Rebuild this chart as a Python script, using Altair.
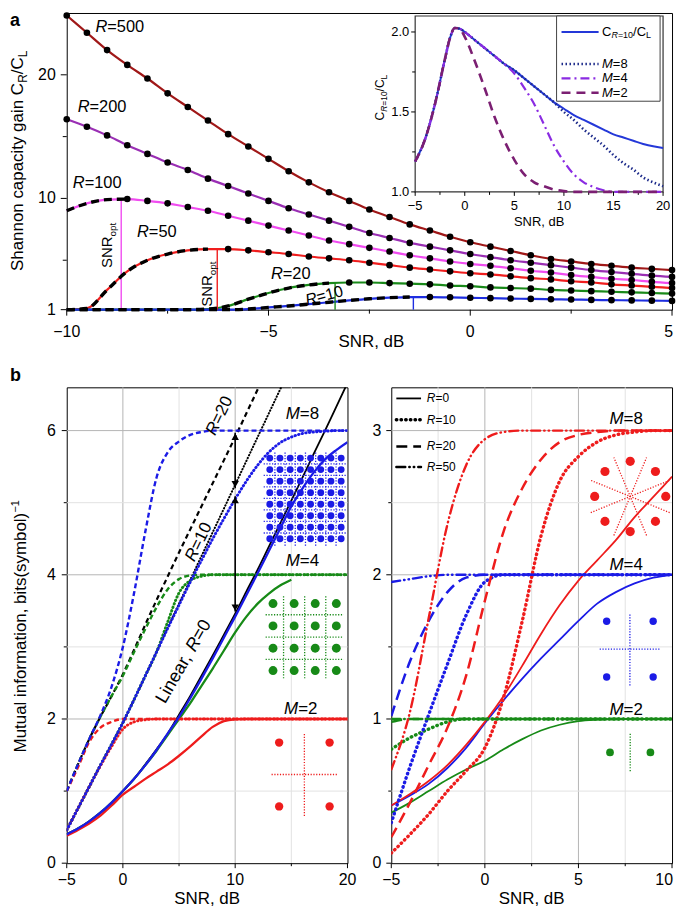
import altair as alt
import pandas as pd

FONT = "Liberation Sans"

# ======================= DATA =======================
# ---- panel a: Shannon capacity gain C_R/C_L vs SNR (dB)
snr_a = [-10.0, -9.5, -9.0, -8.5, -8.0, -7.5, -7.0, -6.5, -6.0, -5.5, -5.0, -4.5, -4.0, -3.5, -3.0,
         -2.5, -2.0, -1.5, -1.0, -0.5, 0.0, 0.5, 1.0, 1.5, 2.0, 2.5, 3.0, 3.5, 4.0, 4.5, 5.0]
gain_R500 = [24.8, 23.4, 22.0, 20.8, 19.7, 18.5, 17.4, 16.3, 15.2, 14.2, 13.2, 12.2, 11.3, 10.5, 9.8,
             9.1, 8.5, 7.9, 7.4, 6.9, 6.45, 6.1, 5.75, 5.4, 5.1, 4.9, 4.7, 4.55, 4.4, 4.3, 4.2]
gain_R200 = [16.4, 15.8, 15.1, 14.3, 13.6, 12.9, 12.3, 11.6, 11.0, 10.4, 9.8, 9.2, 8.7, 8.2, 7.7,
             7.2, 6.8, 6.4, 6.1, 5.8, 5.5, 5.25, 5.0, 4.8, 4.6, 4.4, 4.2, 4.05, 3.9, 3.75, 3.65]
gain_R100 = [9.0, 9.6, 9.9, 9.95, 9.8, 9.6, 9.3, 9.0, 8.6, 8.2, 7.8, 7.4, 7.0, 6.6, 6.3,
             6.0, 5.7, 5.4, 5.15, 4.9, 4.7, 4.55, 4.35, 4.15, 4.0, 3.8, 3.65, 3.5, 3.4, 3.25, 3.15]
gain_R50 = [1.0, 1.1, 2.6, 4.1, 5.0, 5.5, 5.8, 5.9, 5.9, 5.8, 5.65, 5.5, 5.3, 5.15, 5.0,
            4.8, 4.6, 4.4, 4.25, 4.1, 3.95, 3.85, 3.7, 3.55, 3.45, 3.3, 3.2, 3.05, 2.95, 2.85, 2.75]
gain_R20 = [1.0, 1.0, 1.0, 1.0, 1.0, 1.0, 1.0, 1.05, 1.3, 1.85, 2.35, 2.75, 3.0, 3.15, 3.2,
            3.2, 3.15, 3.1, 3.05, 2.95, 2.9, 2.8, 2.75, 2.7, 2.6, 2.55, 2.5, 2.45, 2.4, 2.35, 2.3]
gain_R10 = [1.0, 1.0, 1.0, 1.0, 1.0, 1.0, 1.0, 1.0, 1.0, 1.05, 1.18, 1.3, 1.45, 1.6, 1.75,
            1.88, 1.97, 2.02, 2.02, 2.0, 1.96, 1.93, 1.9, 1.87, 1.84, 1.82, 1.79, 1.77, 1.75, 1.73, 1.71]
R_levels = ["500", "200", "100", "50", "20", "10"]
R_colors = ["#a01818", "#9a2fb4", "#f04cf0", "#f01e1e", "#1a8a1a", "#1e2ee0"]
R_snr_opt = [-11.0, -11.0, -8.65, -6.27, -3.35, -1.41]
opt_R = ["100", "50", "20", "10"]
opt_snr = [-8.65, -6.27, -3.35, -1.41]
opt_gain = [9.95, 5.9, 3.15, 2.02]
a_xticks = [-10, -7.5, -5, -2.5, 0, 2.5, 5]
a_xlabels = ["\u221210", "", "\u22125", "", "0", "", "5"]
a_yticks = [1, 5, 10, 15, 20]
a_ylabels = ["1", "", "10", "", "20"]

# ---- inset: C_{R=10}/C_L vs SNR
snr_i = [-5, -4, -3, -2, -1.5, -1, -0.5, 0, 1, 2, 3, 4, 5, 6, 7, 8, 9, 10, 11, 12, 13, 14, 15, 16, 17, 18, 19, 20]
ratio_lin = [1.19, 1.33, 1.55, 1.83, 1.96, 2.025, 2.02, 2.0, 1.95, 1.9, 1.85, 1.8, 1.76, 1.71, 1.66, 1.61,
             1.56, 1.52, 1.48, 1.45, 1.42, 1.39, 1.36, 1.34, 1.32, 1.30, 1.285, 1.275]
ratio_M8 = [1.19, 1.33, 1.55, 1.83, 1.96, 2.025, 2.02, 2.0, 1.95, 1.9, 1.85, 1.8, 1.76, 1.71, 1.66, 1.61,
            1.56, 1.50, 1.45, 1.39, 1.34, 1.29, 1.23, 1.18, 1.14, 1.09, 1.06, 1.035]
ratio_M4 = [1.19, 1.33, 1.55, 1.83, 1.96, 2.025, 2.02, 2.0, 1.95, 1.9, 1.85, 1.8, 1.74, 1.65, 1.55, 1.42,
            1.29, 1.19, 1.11, 1.06, 1.03, 1.01, 1.0, 1.0, 1.0, 1.0, 1.0, 1.0]
ratio_M2 = [1.19, 1.33, 1.55, 1.83, 1.96, 2.025, 2.02, 1.97, 1.82, 1.65, 1.47, 1.32, 1.2, 1.11, 1.06, 1.035,
            1.015, 1.005, 1.0, 1.0, 1.0, 1.0, 1.0, 1.0, 1.0, 1.0, 1.0, 1.0]
inset_x_domain = [-5, 20]
inset_y_domain = [1.0, 2.1]
inset_legend_box = [9.26, 19.7, 1.567, 2.1]
inset_leg_rows = [2.0, 1.80, 1.71, 1.62]
i_xticks = [-5, -2.5, 0, 2.5, 5, 7.5, 10, 12.5, 15, 17.5, 20]
i_xlabels = ["\u22125", "", "0", "", "5", "", "10", "", "15", "", "20"]
i_yticks = [1.0, 1.25, 1.5, 1.75, 2.0]
i_ylabels = ["1.0", "", "1.5", "", "2.0"]

# ---- panel b left: mutual information vs SNR (-5..20 dB)
snr_b = [-5, -4, -3, -2, -1, 0, 1, 2, 3, 4, 5, 6, 7, 8, 9, 10, 11, 12, 13, 14, 15, 16, 17, 18, 19, 20]
lin_R0 = [0.4, 0.48, 0.58, 0.7, 0.83, 1.0, 1.17, 1.37, 1.58, 1.8, 2.06, 2.32, 2.6, 2.88, 3.17, 3.46,
          3.77, 4.07, 4.39, 4.71, 5.03, 5.35, 5.68, 6.0, 6.33, 6.66]
lin_R10 = [0.46, 0.76, 1.06, 1.36, 1.65, 1.95, 2.27, 2.6, 2.93, 3.27, 3.6, 3.93, 4.26, 4.59, 4.92, 5.25,
           5.58, 5.91, 6.24, 6.57, 6.9]
lin_R20 = [1.0, 1.37, 1.72, 2.03, 2.32, 2.62, 2.96, 3.31, 3.65, 3.98, 4.31, 4.63, 4.95, 5.27, 5.59, 5.91,
           6.24, 6.57, 6.9]
M8_R0 = [0.4, 0.48, 0.58, 0.7, 0.84, 1.0, 1.17, 1.36, 1.57, 1.8, 2.03, 2.29, 2.56, 2.84, 3.13, 3.42,
         3.72, 4.02, 4.33, 4.64, 4.95, 5.2, 5.42, 5.6, 5.73, 5.84]
M8_R10 = [0.46, 0.76, 1.06, 1.36, 1.65, 1.95, 2.27, 2.6, 2.93, 3.26, 3.58, 3.9, 4.2, 4.5, 4.78, 5.05,
          5.3, 5.52, 5.7, 5.83, 5.91, 5.96, 5.98, 5.99, 6.0, 6.0]
M8_R20 = [1.0, 1.37, 1.72, 2.05, 2.45, 3.0, 3.75, 4.6, 5.35, 5.7, 5.85, 5.94, 5.98, 6.0, 6.0, 6.0,
          6.0, 6.0, 6.0, 6.0, 6.0, 6.0, 6.0, 6.0, 6.0, 6.0]
M4_R0 = [0.4, 0.48, 0.58, 0.7, 0.84, 1.0, 1.17, 1.36, 1.56, 1.78, 2.0, 2.22, 2.46, 2.7, 2.95, 3.2,
         3.42, 3.6, 3.74, 3.85, 3.93]
M4_R10 = [0.46, 0.76, 1.06, 1.36, 1.65, 1.95, 2.27, 2.6, 2.93, 3.35, 3.75, 3.92, 3.98, 4.0, 4.0, 4.0,
          4.0, 4.0, 4.0, 4.0, 4.0, 4.0, 4.0, 4.0, 4.0, 4.0]
M4_R20 = [1.0, 1.37, 1.72, 2.03, 2.32, 2.6, 2.93, 3.25, 3.55, 3.8, 3.94, 3.99, 4.0, 4.0, 4.0, 4.0,
          4.0, 4.0, 4.0, 4.0, 4.0, 4.0, 4.0, 4.0, 4.0, 4.0]
M2_R0 = [0.38, 0.46, 0.55, 0.66, 0.8, 0.95, 1.06, 1.17, 1.27, 1.37, 1.49, 1.62, 1.76, 1.89, 1.97, 1.995,
         2.0, 2.0, 2.0, 2.0, 2.0, 2.0, 2.0, 2.0, 2.0, 2.0]
M2_R10 = [0.46, 0.76, 1.06, 1.35, 1.62, 1.86, 1.96, 1.99, 2.0, 2.0, 2.0, 2.0, 2.0, 2.0, 2.0, 2.0,
          2.0, 2.0, 2.0, 2.0, 2.0, 2.0, 2.0, 2.0, 2.0, 2.0]
M2_R20 = [1.0, 1.33, 1.68, 1.88, 1.96, 2.0, 2.0, 2.0, 2.0, 2.0, 2.0, 2.0, 2.0, 2.0, 2.0, 2.0,
          2.0, 2.0, 2.0, 2.0, 2.0, 2.0, 2.0, 2.0, 2.0, 2.0]
arrow_snr = 10
arrow_upper = [5.2, 5.97]
arrow_lower = [3.49, 5.09]
b_xticks = [-5, 0, 5, 10, 15, 20]
b_xlabels = ["\u22125", "0", "", "10", "", "20"]
b_yticks = [0, 1, 2, 3, 4, 5, 6]
b_ylabels = ["0", "", "2", "", "4", "", "6"]
b_xgrid_major, b_xgrid_minor = [0, 10], [5, 15]
b_ygrid_major, b_ygrid_minor = [2, 4, 6], [1, 3, 5]

# ---- panel b right: mutual information vs SNR (-5..10 dB)
snr_c = [-5, -4, -3, -2, -1, 0, 1, 2, 3, 4, 5, 6, 7, 8, 9, 10]
c_M8_R0 = [0.4, 0.48, 0.57, 0.68, 0.82, 0.98, 1.16, 1.37, 1.59, 1.79, 1.96, 2.1, 2.24, 2.4, 2.54, 2.68]
c_M8_R10 = [0.07, 0.2, 0.34, 0.5, 0.64, 0.8, 1.15, 1.68, 2.27, 2.65, 2.82, 2.92, 2.97, 2.99, 3.0, 3.0]
c_M8_R20 = [0.18, 0.42, 0.68, 0.94, 1.3, 1.82, 2.3, 2.6, 2.8, 2.92, 2.97, 2.99, 3.0, 3.0, 3.0, 3.0]
c_M8_R50 = [0.65, 1.05, 1.7, 2.35, 2.76, 2.94, 2.99, 3.0, 3.0, 3.0, 3.0, 3.0, 3.0, 3.0, 3.0, 3.0]
c_M4_R0 = [0.4, 0.47, 0.55, 0.66, 0.8, 0.97, 1.13, 1.28, 1.42, 1.55, 1.68, 1.8, 1.88, 1.94, 1.98, 2.0]
c_M4_R10 = [0.28, 0.67, 1.03, 1.38, 1.72, 1.95, 2.0, 2.0, 2.0, 2.0, 2.0, 2.0, 2.0, 2.0, 2.0, 2.0]
c_M4_R20 = [1.02, 1.4, 1.68, 1.88, 1.98, 2.0, 2.0, 2.0, 2.0, 2.0, 2.0, 2.0, 2.0, 2.0, 2.0, 2.0]
c_M4_R50 = [1.95, 1.97, 1.99, 2.0, 2.0, 2.0, 2.0, 2.0, 2.0, 2.0, 2.0, 2.0, 2.0, 2.0, 2.0, 2.0]
c_M2_R0 = [0.35, 0.42, 0.5, 0.58, 0.65, 0.71, 0.79, 0.86, 0.92, 0.96, 0.985, 0.995, 1.0, 1.0, 1.0, 1.0]
c_M2_R10 = [0.79, 0.87, 0.93, 0.98, 1.0, 1.0, 1.0, 1.0, 1.0, 1.0, 1.0, 1.0, 1.0, 1.0, 1.0, 1.0]
c_M2_R20 = [0.98, 1.0, 1.0, 1.0, 1.0, 1.0, 1.0, 1.0, 1.0, 1.0, 1.0, 1.0, 1.0, 1.0, 1.0, 1.0]
c_M2_R50 = [1.0, 1.0, 1.0, 1.0, 1.0, 1.0, 1.0, 1.0, 1.0, 1.0, 1.0, 1.0, 1.0, 1.0, 1.0, 1.0]
legend_R = ["0", "10", "20", "50"]
legend_rows = [3.223, 3.075, 2.89, 2.747]
c_xticks = [-5, -2.5, 0, 2.5, 5, 7.5, 10]
c_xlabels = ["\u22125", "", "0", "", "5", "", "10"]
c_yticks = [0, 0.5, 1, 1.5, 2, 2.5, 3]
c_ylabels = ["0", "", "1", "", "2", "", "3"]
c_xgrid_major, c_xgrid_minor = [0, 5], [-2.5, 2.5, 7.5]
c_ygrid_major, c_ygrid_minor = [1, 2, 3], [0.5, 1.5, 2.5]

# ---- constellations (I/Q)
qam64_levels = [-7, -5, -3, -1, 1, 3, 5, 7]
qam64_grid = [-6, -4, -2, 0, 2, 4, 6]
qam16_levels = [-3, -1, 1, 3]
qam16_grid = [-2, 0, 2]
qpsk_levels = [-1, 1]
psk8_i = [1, 0.71, 0, -0.71, -1, -0.71, 0, 0.71]
psk8_q = [0, 0.71, 1, 0.71, 0, -0.71, -1, -0.71]
psk8_rays = [(-1.11, -0.46, 1.11, 0.46), (-0.46, -1.11, 0.46, 1.11),
             (0.46, -1.11, -0.46, 1.11), (1.11, -0.46, -1.11, 0.46)]
bpsk_i = [-1, 1]

# ======================= STYLE / LAYOUT =======================
WA, HA = 608, 298
WB, HB = 282, 478
GAP_V, GAP_H = 78, 44
KB = HB / 484.0
C_RED, C_BLUE, C_GREEN = "#ee1c1c", "#1b1be6", "#178a17"
GRID_MAJ, GRID_MIN = "#b4b4b4", "#e2e2e2"

ADV = {" ": 278, ",": 278, "-": 333, ".": 278, "/": 278, "(": 333, ")": 333, "=": 584, "\u2212": 584,
       "B": 667, "C": 722, "L": 556, "M": 833, "N": 722, "R": 722, "S": 667,
       "a": 556, "b": 556, "c": 500, "d": 556, "e": 556, "f": 278, "g": 556, "h": 556, "i": 222,
       "l": 222, "m": 833, "n": 556, "o": 556, "p": 556, "r": 333, "s": 500, "t": 278, "u": 556, "y": 500}


def tw(s, size):
    return sum(ADV.get(c, 556) for c in s) * size / 1000.0


def P(text, size, italic=False, shift=0.0, bold=False):
    return (text, size, italic, shift, bold)


def rich(pieces, x, y, xs=None, ys=None, angle=0, align="left", baseline="alphabetic", color="black"):
    total = sum(tw(p[0], p[1]) for p in pieces)
    off = {"left": 0.0, "center": -total / 2.0, "right": -total}[align]
    if xs is None:
        base = alt.Chart(pd.DataFrame({"k": [0]}))
        enc = dict(x=alt.value(x), y=alt.value(y))
    else:
        base = alt.Chart(pd.DataFrame({"ax": [x], "ay": [y]}))
        enc = dict(x=alt.X("ax:Q", scale=xs, axis=None), y=alt.Y("ay:Q", scale=ys, axis=None))
    out = []
    for (t, s, it, sh, bd) in pieces:
        kw = dict(text=t, font=FONT, fontSize=s, align="left", baseline=baseline,
                  dx=round(off, 2), dy=sh, color=color)
        if angle:
            kw["angle"] = angle
        if it:
            kw["fontStyle"] = "italic"
        if bd:
            kw["fontWeight"] = "bold"
        out.append(base.mark_text(**kw).encode(**enc))
        off += tw(t, s)
    return out


def ilabel(letter, rest, size, x, y, xs, ys, angle=0, baseline="middle"):
    return rich([P(letter, size, True), P(rest, size)], x, y, xs, ys, angle=angle, baseline=baseline)


def x_axis(vals, labels, xs, y0, tmaj, tmin, label_y, size, flush_last=False):
    d = pd.DataFrame({"v": vals, "lab": labels})
    dmaj, dmin = d[d.lab != ""], d[d.lab == ""]
    out = []
    for dd, t in [(dmaj, tmaj), (dmin, tmin)]:
        if len(dd):
            out.append(alt.Chart(dd).mark_rule(color="black", strokeWidth=1).encode(
                x=alt.X("v:Q", scale=xs, axis=None), y=alt.value(y0), y2=alt.value(y0 + t)))
    centered = dmaj.iloc[:-1] if flush_last else dmaj
    out.append(alt.Chart(centered).mark_text(font=FONT, fontSize=size, align="center", baseline="top",
                                             color="black").encode(
        x=alt.X("v:Q", scale=xs, axis=None), y=alt.value(label_y), text="lab:N"))
    if flush_last:
        out.append(alt.Chart(dmaj.iloc[-1:]).mark_text(font=FONT, fontSize=size, align="right", baseline="top",
                                                       color="black", dx=1).encode(
            x=alt.X("v:Q", scale=xs, axis=None), y=alt.value(label_y), text="lab:N"))
    return out


def y_axis(vals, labels, ys, x0, tmaj, tmin, label_x, size):
    d = pd.DataFrame({"v": vals, "lab": labels})
    dmaj, dmin = d[d.lab != ""], d[d.lab == ""]
    out = []
    for dd, t in [(dmaj, tmaj), (dmin, tmin)]:
        if len(dd):
            out.append(alt.Chart(dd).mark_rule(color="black", strokeWidth=1).encode(
                y=alt.Y("v:Q", scale=ys, axis=None), x=alt.value(x0 - t), x2=alt.value(x0)))
    out.append(alt.Chart(dmaj).mark_text(font=FONT, fontSize=size, align="right", baseline="middle",
                                         color="black").encode(
        y=alt.Y("v:Q", scale=ys, axis=None), x=alt.value(label_x), text="lab:N"))
    return out


def grid(xvals_major, xvals_minor, yvals_major, yvals_minor, xs, ys, W, H):
    out = []
    for vals, col in [(xvals_minor, GRID_MIN), (xvals_major, GRID_MAJ)]:
        out.append(alt.Chart(pd.DataFrame({"v": vals})).mark_rule(color=col, strokeWidth=1).encode(
            x=alt.X("v:Q", scale=xs, axis=None), y=alt.value(0), y2=alt.value(H)))
    for vals, col in [(yvals_minor, GRID_MIN), (yvals_major, GRID_MAJ)]:
        out.append(alt.Chart(pd.DataFrame({"v": vals})).mark_rule(color=col, strokeWidth=1).encode(
            y=alt.Y("v:Q", scale=ys, axis=None), x=alt.value(0), x2=alt.value(W)))
    return out


# ======================= PANEL a =======================
xa = alt.Scale(domain=[-10, 5], nice=False, zero=False)
ya = alt.Scale(domain=[1, 25], nice=False, zero=False)

curves_a = dict(zip(R_levels, [gain_R500, gain_R200, gain_R100, gain_R50, gain_R20, gain_R10]))
rows = []
for r, vals in curves_a.items():
    for s, v in zip(snr_a, vals):
        rows.append({"snr": s, "val": v, "R": r})
df_a = pd.DataFrame(rows)
df_a["opt"] = df_a["R"].map(dict(zip(R_levels, R_snr_opt)))
df_dash = df_a[df_a.snr <= df_a.opt + 0.25]
df_dots = df_a[df_a.snr >= df_a.opt]
df_opt = pd.DataFrame({"R": opt_R, "snr": opt_snr, "val": opt_gain, "lo": [1.0] * len(opt_R)})
col_a = alt.Color("R:N", scale=alt.Scale(domain=R_levels, range=R_colors), legend=None)

main_a = []
main_a += x_axis(a_xticks, a_xlabels, xa, HA, 6, 4, HA + 14, 16, flush_last=True)
main_a += y_axis(a_yticks, a_ylabels, ya, 0, 6, 4, -11, 16)
main_a += [
    alt.Chart(df_a).mark_line(strokeWidth=2.2, interpolate="monotone").encode(
        x=alt.X("snr:Q", scale=xa, axis=None), y=alt.Y("val:Q", scale=ya, axis=None), color=col_a),
    alt.Chart(df_opt).mark_rule(strokeWidth=1.4).encode(
        x=alt.X("snr:Q", scale=xa, axis=None), y=alt.Y("lo:Q", scale=ya, axis=None), y2="val:Q", color=col_a),
    alt.Chart(df_dash).mark_line(color="black", strokeWidth=3.4, strokeDash=[8, 5], interpolate="monotone").encode(
        x=alt.X("snr:Q", scale=xa, axis=None), y=alt.Y("val:Q", scale=ya, axis=None), detail="R:N"),
    alt.Chart(df_dots).mark_circle(color="black", size=44, opacity=1).encode(
        x=alt.X("snr:Q", scale=xa, axis=None), y=alt.Y("val:Q", scale=ya, axis=None)),
]
for (rest, lx, ly) in [("=500", -9.29, 23.88), ("=200", -9.73, 17.37), ("=100", -9.85, 11.27),
                       ("=50", -8.26, 7.26), ("=20", -4.94, 3.89)]:
    main_a += ilabel("R", rest, 16.5, lx, ly, xa, ya)
main_a += ilabel("R", "=10", 16, -4.08, 1.72, xa, ya, angle=345)
main_a += rich([P("SNR", 15), P("opt", 10, shift=4)], -8.87, 4.37, xa, ya, angle=270)
main_a += rich([P("SNR", 15), P("opt", 10, shift=4)], -6.39, 1.24, xa, ya, angle=270)
main_a += rich([P("a", 18, bold=True)], -57, 13)
main_a += rich([P("Shannon capacity gain C", 17), P("R", 12, shift=4), P("/C", 17), P("L", 12, shift=4)],
               -44, 148.5, angle=270, align="center")
main_a += rich([P("SNR, dB", 17)], 306, 335, align="center")

# ---- inset
I_X0, I_X1, I_Y0, I_Y1 = 350, 599, 179.7, 3.0
xi = alt.Scale(domain=inset_x_domain, range=[I_X0, I_X1], nice=False, zero=False)
yi = alt.Scale(domain=inset_y_domain, range=[I_Y0, I_Y1], nice=False, zero=False)
df_frame_i = pd.DataFrame({"x": [inset_x_domain[0]], "x2": [inset_x_domain[1]],
                           "y": [inset_y_domain[0]], "y2": [inset_y_domain[1]]})
df_i = pd.DataFrame({"snr": snr_i, "lin": ratio_lin, "m8": ratio_M8, "m4": ratio_M4, "m2": ratio_M2})
C_LIN, C_M8, C_M4, C_M2 = "#2438d8", "#1c2a8a", "#8a2be2", "#7b1f72"


def iline(field, **kw):
    return alt.Chart(df_i).mark_line(interpolate="monotone", **kw).encode(
        x=alt.X("snr:Q", scale=xi, axis=None), y=alt.Y(f"{field}:Q", scale=yi, axis=None))


inset = [
    alt.Chart(df_frame_i).mark_rect(fill="white", stroke="#333333", strokeWidth=1.2).encode(
        x=alt.X("x:Q", scale=xi, axis=None), x2="x2:Q", y=alt.Y("y:Q", scale=yi, axis=None), y2="y2:Q"),
]
inset += x_axis(i_xticks, i_xlabels, xi, I_Y0, 4, 3, I_Y0 + 8, 13)
inset += y_axis(i_yticks, i_ylabels, yi, I_X0, 4, 3, I_X0 - 6, 13)
inset += rich([P("SNR, dB", 13)], (I_X0 + I_X1) / 2, I_Y0 + 34, align="center")
inset += [
    iline("lin", color=C_LIN, strokeWidth=2),
    iline("m8", color=C_M8, strokeWidth=2.6, strokeDash=[1.5, 2.5]),
    iline("m4", color=C_M4, strokeWidth=2.2, strokeDash=[9, 4, 2, 4]),
    iline("m2", color=C_M2, strokeWidth=2.6, strokeDash=[9, 6]),
]
df_lbox = pd.DataFrame({"x": [inset_legend_box[0]], "x2": [inset_legend_box[1]],
                        "y": [inset_legend_box[2]], "y2": [inset_legend_box[3]]})
inset.append(alt.Chart(df_lbox).mark_rect(fill="white", stroke="#444444", strokeWidth=1).encode(
    x=alt.X("x:Q", scale=xi, axis=None), x2="x2:Q", y=alt.Y("y:Q", scale=yi, axis=None), y2="y2:Q"))
leg_styles = [dict(color=C_LIN, strokeWidth=2), dict(color=C_M8, strokeWidth=2.6, strokeDash=[1.5, 2.5]),
              dict(color=C_M4, strokeWidth=2.2, strokeDash=[9, 4, 2, 4]),
              dict(color=C_M2, strokeWidth=2.6, strokeDash=[9, 6])]
for ry, st in zip(inset_leg_rows, leg_styles):
    inset.append(alt.Chart(pd.DataFrame({"x": [9.76], "x2": [13.5], "y": [ry]})).mark_rule(**st).encode(
        x=alt.X("x:Q", scale=xi, axis=None), x2="x2:Q", y=alt.Y("y:Q", scale=yi, axis=None)))
inset += rich([P("C", 13), P("R", 9, True, 3), P("=10", 9, shift=3), P("/C", 13), P("L", 9, shift=3)],
              13.85, inset_leg_rows[0], xi, yi, baseline="middle")
for ry, m in zip(inset_leg_rows[1:], ["=8", "=4", "=2"]):
    inset += ilabel("M", m, 13, 13.85, ry, xi, yi)
inset += rich([P("C", 12), P("R", 8.5, True, 3), P("=10", 8.5, shift=3), P("/C", 12), P("L", 8.5, shift=3)],
              319, 85, angle=270, align="center")

panel_a = alt.layer(alt.layer(*main_a), alt.layer(*inset)).resolve_scale(
    x="independent", y="independent").properties(width=WA, height=HA)


# ======================= PANEL b (left) =======================
xb = alt.Scale(domain=[-5, 20], nice=False, zero=False)
yb = alt.Scale(domain=[0, 6.6], nice=False, zero=False)

BL_series = [
    ("black", "0", lin_R0), ("black", "10", lin_R10), ("black", "20", lin_R20),
    (C_GREEN, "0", M4_R0), (C_GREEN, "10", M4_R10), (C_GREEN, "20", M4_R20),
    (C_RED, "0", M2_R0), (C_RED, "10", M2_R10), (C_RED, "20", M2_R20),
    (C_BLUE, "0", M8_R0), (C_BLUE, "10", M8_R10), (C_BLUE, "20", M8_R20),
]
BL_STYLE = {"0": dict(strokeWidth=2.3), "10": dict(strokeDash=[0.5, 3.2], strokeCap="round", strokeWidth=2.9),
            "20": dict(strokeDash=[5, 3], strokeWidth=2.4)}
BL_BLACK = {"0": dict(strokeWidth=1.8), "10": dict(strokeDash=[0.5, 2.6], strokeCap="round", strokeWidth=2.0),
            "20": dict(strokeDash=[5, 3.5], strokeWidth=2.2)}

main_b = grid(b_xgrid_major, b_xgrid_minor, b_ygrid_major, b_ygrid_minor, xb, yb, WB, HB)
main_b += x_axis(b_xticks, b_xlabels, xb, HB, 5, 3, HB + 9, 16)
main_b += y_axis(b_yticks, b_ylabels, yb, 0, 5, 3, -11, 16)
for col, r, vals in BL_series:
    d = pd.DataFrame({"snr": snr_b[:len(vals)], "val": vals})
    st = BL_BLACK[r] if col == "black" else BL_STYLE[r]
    main_b.append(alt.Chart(d).mark_line(color=col, interpolate="monotone", clip=True, **st).encode(
        x=alt.X("snr:Q", scale=xb, axis=None), y=alt.Y("val:Q", scale=yb, axis=None)))

for lo, hi in [arrow_upper, arrow_lower]:
    main_b.append(alt.Chart(pd.DataFrame({"x": [arrow_snr], "y": [lo], "y2": [hi]})).mark_rule(
        color="black", strokeWidth=1.6).encode(x=alt.X("x:Q", scale=xb, axis=None),
                                               y=alt.Y("y:Q", scale=yb, axis=None), y2="y2:Q"))
    main_b.append(alt.Chart(pd.DataFrame({"x": [arrow_snr], "y": [hi]})).mark_point(
        shape="triangle-up", filled=True, color="black", size=55, opacity=1, yOffset=4).encode(
        x=alt.X("x:Q", scale=xb, axis=None), y=alt.Y("y:Q", scale=yb, axis=None)))
    main_b.append(alt.Chart(pd.DataFrame({"x": [arrow_snr], "y": [lo]})).mark_point(
        shape="triangle-down", filled=True, color="black", size=55, opacity=1, yOffset=-4).encode(
        x=alt.X("x:Q", scale=xb, axis=None), y=alt.Y("y:Q", scale=yb, axis=None)))

main_b += ilabel("M", "=8", 17, 14.5, 6.23, xb, yb)
main_b += ilabel("M", "=4", 17, 14.5, 4.19, xb, yb)
main_b += ilabel("M", "=2", 17, 14.35, 2.14, xb, yb)
main_b += rich([P("Linear, ", 18), P("R", 18, True), P("=0", 18)], 3.75, 2.2, xb, yb, angle=300)
main_b += ilabel("R", "=10", 17, 6.35, 4.17, xb, yb, angle=296, baseline="alphabetic")
main_b += ilabel("R", "=20", 17, 8.2, 5.92, xb, yb, angle=296, baseline="alphabetic")
main_b += rich([P("b", 18, bold=True)], -57, -6)
main_b += rich([P("Mutual information, bits(symbol)", 17), P("\u22121", 11, shift=-7)],
               -41, 243 * KB, angle=270, align="center")
main_b += rich([P("SNR, dB", 17)], WB / 2, HB + 41, align="center")


def const_group(points, segs, cx, cy, sx, sy, color, size):
    xs = alt.Scale(domain=[0, 1], range=[cx, cx + sx], nice=False, zero=False)
    ys = alt.Scale(domain=[0, 1], range=[cy, cy - sy], nice=False, zero=False)
    dseg = pd.DataFrame(segs, columns=["i1", "q1", "i2", "q2"])
    dpt = pd.DataFrame(points, columns=["i", "q"])
    return alt.layer(
        alt.Chart(dseg).mark_rule(color=color, strokeWidth=1.3, strokeDash=[1.2, 1.6]).encode(
            x=alt.X("i1:Q", scale=xs, axis=None), y=alt.Y("q1:Q", scale=ys, axis=None), x2="i2:Q", y2="q2:Q"),
        alt.Chart(dpt).mark_circle(color=color, size=size, opacity=1).encode(
            x=alt.X("i:Q", scale=xs, axis=None), y=alt.Y("q:Q", scale=ys, axis=None)),
    )


def grid_segs(levels, ext):
    segs = []
    for g in levels:
        segs.append((g, -ext, g, ext))
        segs.append((-ext, g, ext, g))
    return segs


qam64_pts = [(i, q) for i in qam64_levels for q in qam64_levels]
qam16_pts = [(i, q) for i in qam16_levels for q in qam16_levels]
qpsk_pts = [(i, q) for i in qpsk_levels for q in qpsk_levels]

c64 = const_group(qam64_pts, grid_segs(qam64_grid, 8.2), 239.8, 113 * KB, 5.12, 5.86 * KB, C_BLUE, 48)
c16 = const_group(qam16_pts, grid_segs(qam16_grid, 3.7), 239, 254 * KB, 10.6, 11.35 * KB, C_GREEN, 80)
c4r = const_group(qpsk_pts, grid_segs([0], 1.3), 238.7, 393.8 * KB, 25.35, 32.5 * KB, C_RED, 70)

panel_bl = alt.layer(alt.layer(*main_b), c64, c16, c4r).resolve_scale(
    x="independent", y="independent").properties(width=WB, height=HB)

# ======================= PANEL b (right) =======================
xc = alt.Scale(domain=[-5, 10], nice=False, zero=False)
yc = alt.Scale(domain=[0, 3.3], nice=False, zero=False)
BR_STYLE = {"0": dict(strokeWidth=1.8),
            "10": dict(strokeDash=[0.5, 4.2], strokeCap="round", strokeWidth=3.4),
            "20": dict(strokeDash=[11, 6], strokeWidth=2.5),
            "50": dict(strokeDash=[9, 4, 0.5, 4, 0.5, 4], strokeCap="round", strokeWidth=2.4)}
BR_series = [
    (C_GREEN, "0", c_M2_R0), (C_BLUE, "0", c_M4_R0), (C_RED, "0", c_M8_R0),
    (C_GREEN, "10", c_M2_R10), (C_BLUE, "10", c_M4_R10), (C_RED, "10", c_M8_R10),
    (C_GREEN, "20", c_M2_R20), (C_BLUE, "20", c_M4_R20), (C_RED, "20", c_M8_R20),
    (C_GREEN, "50", c_M2_R50), (C_BLUE, "50", c_M4_R50), (C_RED, "50", c_M8_R50),
]
main_c = grid(c_xgrid_major, c_xgrid_minor, c_ygrid_major, c_ygrid_minor, xc, yc, WB, HB)
main_c += x_axis(c_xticks, c_xlabels, xc, HB, 5, 3, HB + 9, 16, flush_last=True)
main_c += y_axis(c_yticks, c_ylabels, yc, 0, 5, 3, -10, 16)
for col, r, vals in BR_series:
    d = pd.DataFrame({"snr": snr_c[:len(vals)], "val": vals})
    main_c.append(alt.Chart(d).mark_line(color=col, interpolate="monotone", clip=True, **BR_STYLE[r]).encode(
        x=alt.X("snr:Q", scale=xc, axis=None), y=alt.Y("val:Q", scale=yc, axis=None)))
for r, ry in zip(legend_R, legend_rows):
    main_c.append(alt.Chart(pd.DataFrame({"x": [-4.73], "x2": [-3.41], "y": [ry]})).mark_rule(
        color="black", **BR_STYLE[r]).encode(x=alt.X("x:Q", scale=xc, axis=None), x2="x2:Q",
                                             y=alt.Y("y:Q", scale=yc, axis=None)))
    main_c += ilabel("R", "=" + r, 12, -3.1, ry, xc, yc)
main_c += ilabel("M", "=8", 17, 6.66, 3.08, xc, yc)
main_c += ilabel("M", "=4", 17, 6.66, 2.07, xc, yc)
main_c += ilabel("M", "=2", 17, 6.66, 1.06, xc, yc)
main_c += rich([P("SNR, dB", 17)], WB / 2, HB + 41, align="center")

psk8_pts = list(zip(psk8_i, psk8_q))
c8 = const_group(psk8_pts, psk8_rays, 240, 111 * KB, 35.7, 35.7 * KB, C_RED, 85)
c4b = const_group(qpsk_pts, grid_segs([0], 1.3), 239.7, 266.3 * KB, 23.35, 28.35 * KB, C_BLUE, 55)
c2g = const_group([(i, 0) for i in bpsk_i], [(0, -0.94, 0, 0.94)], 240, 371.3 * KB, 20.3, 20.3 * KB, C_GREEN, 60)

panel_br = alt.layer(alt.layer(*main_c), c8, c4b, c2g).resolve_scale(
    x="independent", y="independent").properties(width=WB, height=HB)

bottom = alt.hconcat(panel_bl, panel_br, spacing=GAP_H, bounds="flush")
chart = alt.vconcat(panel_a, bottom, spacing=GAP_V, bounds="flush").properties(padding=0).configure_view(
    stroke="black", strokeWidth=1)

chart.save("out.html", embed_options={"renderer": "svg", "actions": False})
